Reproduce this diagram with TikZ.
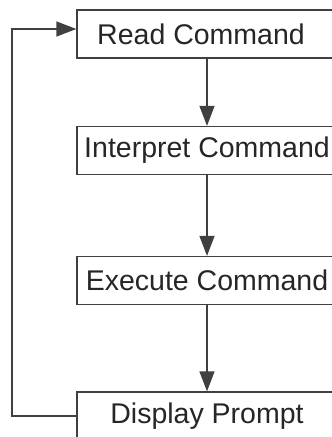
\documentclass[tikz,border=0pt]{standalone}
\usepackage{fontspec}
\setmainfont{Liberation Sans}
\usetikzlibrary{arrows.meta}
\begin{document}
\begin{tikzpicture}[x=1pt,y=-1pt,
  stepbox/.style={draw=black!75, line width=1.3pt, fill=white, minimum width=260pt, minimum height=48pt, inner sep=0pt, font=\fontsize{28.5pt}{30pt}\selectfont, text=black!85},
  flow/.style={draw=black!75, line width=1.3pt, -{Triangle[length=20pt,width=15pt]}}]
\useasboundingbox (0,0) rectangle (332,437);
\clip (0,0) rectangle (332,437);
\fill[white] (0,0) rectangle (332,437);
\node[stepbox] (r) at (207,34) {\hspace*{-12pt}Read Command};
\node[stepbox] (i) at (207,150.5) {Interpret Command};
\node[stepbox] (e) at (207,280.5) {Execute Command};
\node[stepbox] (d) at (207,416) {Display Prompt};
\draw[flow] (r) -- (i);
\draw[flow] (i) -- (e);
\draw[flow] (e) -- (d);
\coordinate (lx) at (12,0);
\coordinate (rin) at ([yshift=5pt]r.west);
\draw[flow] (d.west) -- (d.west -| lx) -- (lx |- rin) -- (rin);
\end{tikzpicture}
\end{document}
